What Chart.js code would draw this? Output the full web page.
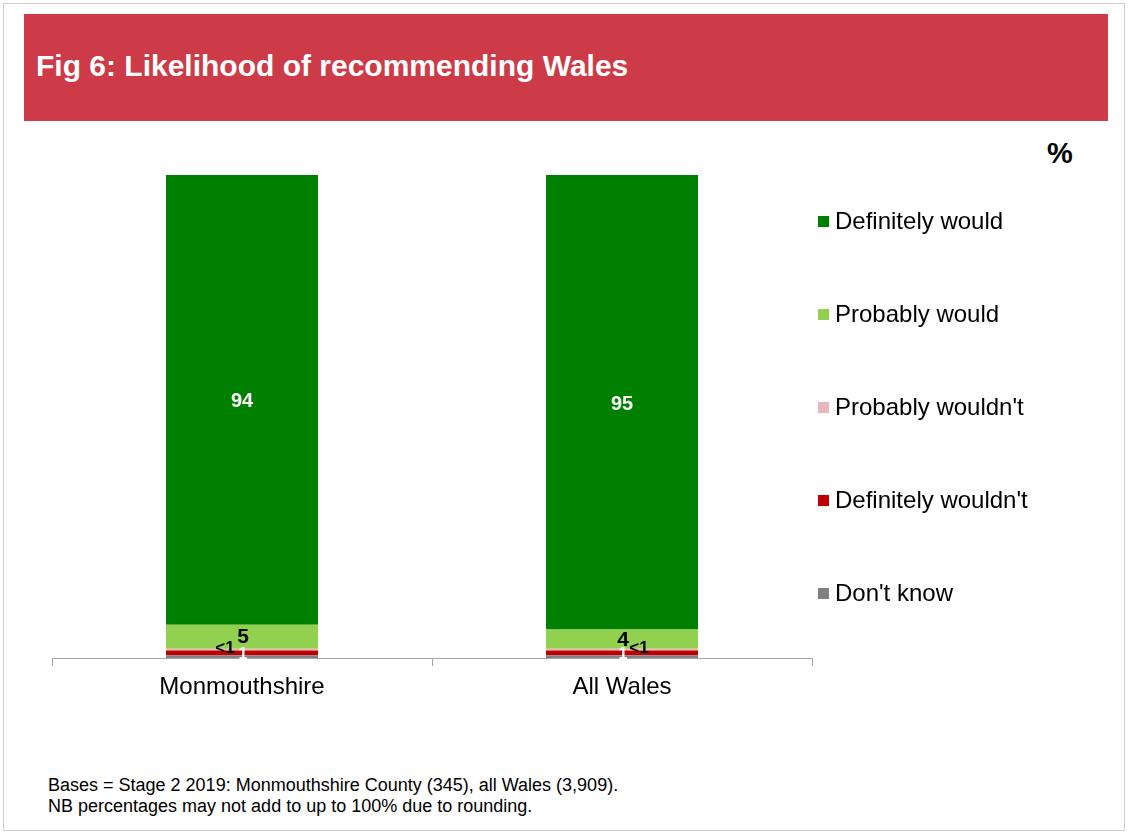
<!DOCTYPE html>
<html>
<head>
<meta charset="utf-8">
<script src="https://cdn.jsdelivr.net/npm/chart.js@4"></script>
<style>
  html, body { margin: 0; padding: 0; background: #fff; }
  body { width: 1129px; height: 834px; position: relative; overflow: hidden; font-family: "Liberation Sans", Arial, sans-serif; }
  #frame { position: absolute; left: 3px; top: 3px; width: 1122px; height: 828px; border: 1px solid #cfcfcf; box-sizing: border-box; }
  #banner { position: absolute; left: 24px; top: 14px; width: 1084px; height: 107px; background: #CC3B47; }
  #banner h1 { margin: 0; position: absolute; left: 12px; top: 35px; color: #fff; font-size: 30px; font-weight: bold; }
  #pct { position: absolute; left: 1047px; top: 137px; font-size: 29px; font-weight: bold; }
  #chart-wrap { position: absolute; left: 0; top: 121px; width: 1129px; height: 600px; }
  #legend { position: absolute; left: 818px; top: 205px; }
  .leg-item { position: absolute; left: 0; white-space: nowrap; font-size: 24px; height: 32px; line-height: 32px; }
  .leg-box { display: inline-block; width: 11px; height: 11px; margin-right: 6px; vertical-align: 2px; }
  #notes { position: absolute; left: 48px; top: 775px; font-size: 18px; line-height: 21px; }
</style>
</head>
<body>
<div id="frame"></div>
<div id="banner"><h1>Fig 6: Likelihood of recommending Wales</h1></div>
<div id="pct">%</div>
<div id="chart-wrap"><canvas id="chart" width="1129" height="600"></canvas></div>
<div id="legend"></div>
<div id="notes">Bases = Stage 2 2019: Monmouthshire County (345), all Wales (3,909).<br>NB percentages may not add to up to 100% due to rounding.</div>

<script>
// categories and series (stack order bottom -> top)
const categories = ['Monmouthshire', 'All Wales'];
const seriesNames = ["Don't know", "Definitely wouldn't", "Probably wouldn't", 'Probably would', 'Definitely would'];
const seriesColors = ['#808080', '#C00000', '#E6B9B8', '#92D050', '#008000'];

const dontKnow = [0.6, 0.6];
const definitelyWouldnt = [1, 1];
const probablyWouldnt = [0.4, 0.4];
const probablyWould = [5, 4];
const definitelyWould = [94, 95];

// printed labels (rounded values as shown)
const dontKnowLabels = ['', ''];
const definitelyWouldntLabels = ['1', '1'];
const probablyWouldntLabels = ['<1', '<1'];
const probablyWouldLabels = ['5', '4'];
const definitelyWouldLabels = ['94', '95'];

const seriesValues = [dontKnow, definitelyWouldnt, probablyWouldnt, probablyWould, definitelyWould];
const seriesLabels = [dontKnowLabels, definitelyWouldntLabels, probablyWouldntLabels, probablyWouldLabels, definitelyWouldLabels];

const totals = categories.map((c, i) => seriesValues.reduce((s, arr) => s + arr[i], 0));

const datasets = seriesNames.map((name, k) => ({
    label: name,
    data: seriesValues[k],
    backgroundColor: seriesColors[k],
    borderWidth: 0,
    barPercentage: 0.8,
    categoryPercentage: 0.5
}));

// draw the value labels on the segments
const segLabels = {
    id: 'segLabels',
    afterDatasetsDraw(chart) {
        const ctx = chart.ctx;
        ctx.save();
        ctx.textAlign = 'center';
        ctx.textBaseline = 'middle';
        chart.data.datasets.forEach((ds, k) => {
            const meta = chart.getDatasetMeta(k);
            meta.data.forEach((bar, i) => {
                const txt = seriesLabels[k][i];
                if (!txt) return;
                const midY = (bar.y + bar.base) / 2;
                if (k === 4) {
                    ctx.fillStyle = '#fff';
                    ctx.font = 'bold 20px "Liberation Sans", Arial';
                    ctx.fillText(txt, bar.x, midY + 2);
                } else if (k === 3) {
                    ctx.fillStyle = '#000';
                    ctx.font = 'bold 21px "Liberation Sans", Arial';
                    ctx.fillText(txt, bar.x + 1, midY + 1);
                } else if (k === 2) {
                    ctx.fillStyle = '#000';
                    ctx.font = 'bold 17px "Liberation Sans", Arial';
                    const dx = i === 0 ? -17 : 17;
                    ctx.fillText(txt, bar.x + dx, midY - 1);
                } else if (k === 1) {
                    ctx.fillStyle = '#fff';
                    ctx.font = 'bold 16px "Liberation Sans", Arial';
                    ctx.fillText(txt, bar.x + 1, midY + 2);
                }
            });
        });
        ctx.restore();
    }
};

const chart = new Chart(document.getElementById('chart'), {
    type: 'bar',
    data: { labels: categories, datasets: datasets },
    options: {
        responsive: false,
        animation: false,
        layout: { padding: { left: 52, right: 317, top: 54, bottom: 12 } },
        plugins: { legend: { display: false }, tooltip: { enabled: false } },
        scales: {
            x: {
                stacked: true,
                grid: { display: true, offset: true, drawOnChartArea: false, drawTicks: true, tickLength: 8, color: '#a6a6a6' },
                border: { display: true, color: '#a6a6a6', width: 1 },
                ticks: { color: '#000', font: { size: 24, family: '"Liberation Sans", Arial' }, padding: 7 }
            },
            y: {
                stacked: true,
                display: false,
                min: 0,
                max: Math.max(...totals)
            }
        }
    },
    plugins: [segLabels]
});

// legend on the right, top item first
const legend = document.getElementById('legend');
for (let k = seriesNames.length - 1, row = 0; k >= 0; k--, row++) {
    const item = document.createElement('div');
    item.className = 'leg-item';
    item.style.top = (row * 93) + 'px';
    item.innerHTML = '<span class="leg-box" style="background:' + seriesColors[k] + '"></span>' + seriesNames[k];
    legend.appendChild(item);
}
</script>
</body>
</html>
